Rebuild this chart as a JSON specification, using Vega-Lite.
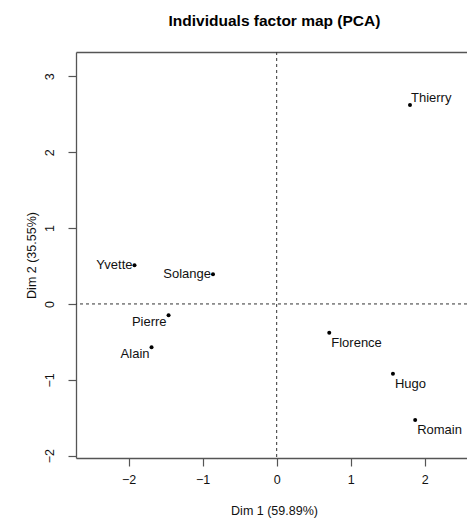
{
  "$schema": "https://vega.github.io/schema/vega-lite/v6.json",
  "width": 391,
  "height": 406,
  "autosize": {"type": "none"},
  "padding": {"left": 76, "top": 52, "right": 0, "bottom": 63},
  "background": "white",
  "config": {
    "font": "Liberation Sans",
    "view": {"stroke": null},
    "axis": {
      "domainColor": "#555555",
      "domainWidth": 1.3,
      "tickColor": "#555555",
      "tickWidth": 1.2,
      "tickSize": 8,
      "labelFont": "Liberation Sans",
      "labelFontSize": 12.5,
      "labelColor": "#111111",
      "titleFont": "Liberation Sans",
      "titleFontSize": 12.5,
      "titleFontWeight": "normal",
      "titleColor": "#111111",
      "grid": false
    }
  },
  "title": {
    "text": "Individuals factor map (PCA)",
    "fontSize": 15.5,
    "fontWeight": "bold",
    "font": "Liberation Sans",
    "anchor": "middle",
    "frame": "group",
    "dx": 3,
    "offset": 22,
    "color": "#000000"
  },
  "datasets": {
    "ind": [
      {"name": "Thierry", "x": 1.80, "y": 2.62},
      {"name": "Yvette", "x": -1.92, "y": 0.51},
      {"name": "Solange", "x": -0.86, "y": 0.39},
      {"name": "Pierre", "x": -1.46, "y": -0.15},
      {"name": "Alain", "x": -1.69, "y": -0.57},
      {"name": "Florence", "x": 0.71, "y": -0.38},
      {"name": "Hugo", "x": 1.57, "y": -0.92},
      {"name": "Romain", "x": 1.87, "y": -1.53}
    ],
    "zero": [{"v": 0}]
  },
  "resolve": {"axis": {"x": "independent"}},
  "layer": [
    {
      "layer": [
        {
          "data": {"name": "zero"},
          "mark": {"type": "rule", "strokeDash": [3, 3], "color": "#333333", "strokeWidth": 1},
          "encoding": {
            "y": {
              "field": "v", "type": "quantitative",
              "scale": {"domain": [-2.03, 3.32], "nice": false, "zero": false},
              "axis": {
                "values": [-2, -1, 0, 1, 2, 3],
                "format": "d",
                "labelAngle": 270,
                "labelAlign": "center",
                "labelBaseline": "alphabetic",
                "labelPadding": 15,
                "title": "Dim 2 (35.55%)",
                "titleX": -45,
                "titleY": 203,
                "titleAngle": 270,
                "titleBaseline": "middle",
                "titleAlign": "center"
              }
            }
          }
        },
        {
          "data": {"name": "ind"},
          "mark": {"type": "point", "filled": true, "color": "#000000", "size": 16, "opacity": 1},
          "encoding": {
            "x": {
              "field": "x", "type": "quantitative",
              "scale": {"domain": [-2.71, 2.57], "nice": false, "zero": false},
              "axis": {
                "values": [-2, -1, 0, 1, 2],
                "format": "d",
                "labelPadding": 7,
                "labelFlush": false,
                "title": "Dim 1 (59.89%)",
                "titleX": 198,
                "titleY": 52,
                "titleBaseline": "middle",
                "titleAlign": "center"
              }
            },
            "y": {"field": "y", "type": "quantitative"}
          }
        },
        {
          "data": {"name": "ind"},
          "transform": [{"filter": {"field": "name", "oneOf": ["Thierry"]}}],
          "mark": {"type": "text", "align": "left", "baseline": "middle", "dx": 1, "dy": -7, "fontSize": 13, "color": "#111111", "font": "Liberation Sans"},
          "encoding": {
            "x": {"field": "x", "type": "quantitative"},
            "y": {"field": "y", "type": "quantitative"},
            "text": {"field": "name"}
          }
        },
        {
          "data": {"name": "ind"},
          "transform": [{"filter": {"field": "name", "oneOf": ["Yvette", "Solange"]}}],
          "mark": {"type": "text", "align": "right", "baseline": "middle", "dx": -2, "dy": 0, "fontSize": 13, "color": "#111111", "font": "Liberation Sans"},
          "encoding": {
            "x": {"field": "x", "type": "quantitative"},
            "y": {"field": "y", "type": "quantitative"},
            "text": {"field": "name"}
          }
        },
        {
          "data": {"name": "ind"},
          "transform": [{"filter": {"field": "name", "oneOf": ["Pierre", "Alain"]}}],
          "mark": {"type": "text", "align": "right", "baseline": "middle", "dx": -2, "dy": 7, "fontSize": 13, "color": "#111111", "font": "Liberation Sans"},
          "encoding": {
            "x": {"field": "x", "type": "quantitative"},
            "y": {"field": "y", "type": "quantitative"},
            "text": {"field": "name"}
          }
        },
        {
          "data": {"name": "ind"},
          "transform": [{"filter": {"field": "name", "oneOf": ["Florence", "Hugo", "Romain"]}}],
          "mark": {"type": "text", "align": "left", "baseline": "middle", "dx": 2, "dy": 10, "fontSize": 13, "color": "#111111", "font": "Liberation Sans"},
          "encoding": {
            "x": {"field": "x", "type": "quantitative"},
            "y": {"field": "y", "type": "quantitative"},
            "text": {"field": "name"}
          }
        }
      ]
    },
    {
      "data": {"name": "zero"},
      "mark": {"type": "rule", "strokeDash": [3, 3], "color": "#333333", "strokeWidth": 1},
      "encoding": {
        "x": {
          "field": "v", "type": "quantitative",
          "scale": {"domain": [-2.71, 2.57], "nice": false, "zero": false},
          "axis": {"orient": "top", "labels": false, "ticks": false, "title": null, "domain": true}
        }
      }
    }
  ]
}
